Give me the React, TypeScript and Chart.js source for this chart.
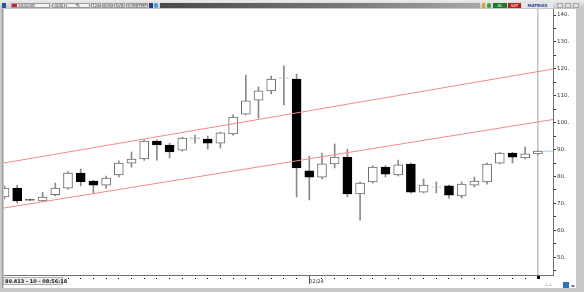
import React, { useEffect, useRef } from 'react';
import { Chart, registerables } from 'chart.js';

Chart.register(...registerables);

// ---- data ----
const OPEN = [72.4, 75.7, 71.4, 70.9, 73.3, 75.7, 81.3, 78.3, 76.8, 80.6, 85.0, 86.5, 93.2, 91.7, 89.8, 94.2, 93.9, 92.4, 95.8, 103.2, 108.4, 111.8, 116.5, 116.2, 82.1, 79.8, 84.7, 87.2, 73.5, 78.0, 83.5, 80.6, 84.6, 74.2, 76.0, 76.5, 72.8, 76.8, 78.0, 85.0, 88.7, 86.9, 88.4];
const HIGH = [76.5, 76.8, 71.6, 74.2, 77.6, 81.8, 82.8, 78.6, 80.2, 85.8, 89.1, 93.6, 93.6, 92.4, 94.6, 95.4, 95.0, 96.5, 102.9, 117.7, 113.3, 117.3, 121.1, 118.1, 87.6, 88.7, 92.1, 90.2, 78.0, 84.0, 84.0, 86.1, 85.0, 79.1, 78.0, 76.8, 78.0, 79.8, 85.0, 89.0, 89.0, 91.0, 89.6];
const LOW = [71.8, 70.2, 71.0, 70.7, 72.8, 75.3, 76.5, 73.9, 75.7, 79.8, 83.5, 86.0, 86.1, 86.9, 89.4, 92.4, 90.2, 90.6, 95.4, 102.9, 101.7, 110.7, 106.6, 72.4, 71.3, 79.1, 83.2, 72.4, 63.8, 77.6, 79.8, 80.2, 73.8, 73.9, 73.9, 72.0, 72.0, 76.1, 77.2, 84.7, 85.0, 86.5, 88.1];
const CLOSE = [75.7, 70.9, 71.2, 72.4, 75.7, 81.3, 78.0, 76.8, 79.4, 85.0, 86.5, 93.2, 91.7, 89.1, 94.3, 94.4, 92.4, 96.2, 102.1, 108.1, 111.8, 116.2, 116.7, 83.2, 79.8, 84.7, 87.2, 73.5, 77.6, 83.5, 80.9, 84.3, 74.2, 76.8, 76.2, 73.1, 77.2, 78.3, 84.6, 88.7, 87.2, 88.4, 89.413];

const Y_TICKS = [45, 50, 55, 60, 65, 70, 75, 80, 85, 90, 95, 100, 105, 110, 115, 120, 125, 130, 135, 140];
const Y_MIN = 43.42;
const Y_MAX = 142.23;
const X_MIN = -0.04;
const X_MAX = 43.19;
const MONTH_LABEL_INDEX = 24;
const MONTH_LABEL = '02/24';
const UPPER_CHANNEL = [85.03, 119.94];
const LOWER_CHANNEL = [68.31, 101.18];
const LAST_PRICE = 89.413;
const CURSOR_INDEX = 42;
const STATUS_TEXT = '89.413 - 10 - 08:56:18';
const TOOLBAR_BOXES = [
  { t: 'GUN', l: 52, w: 13 },
  { t: 'TL', l: 66, w: 24 },
  { t: '126', l: 91, w: 10 },
  { t: 'KHN', l: 102, w: 11 },
  { t: 'SVB', l: 114, w: 11 },
  { t: 'SYM', l: 126, w: 11 },
  { t: 'TMP', l: 137, w: 11 },
];

const FONT = '"DejaVu Sans", sans-serif';

export default function App() {
  const ref = useRef<HTMLCanvasElement | null>(null);

  useEffect(() => {
    const canvas = ref.current;
    if (!canvas) return;
    const up = OPEN.map((o, i) => CLOSE[i] >= o);
    const xTicks = OPEN.map((_, i) => i);

    const monthTick = {
      id: 'monthTick',
      afterDraw(c: any) {
        const xs = c.scales.x;
        const px = Math.round(xs.getPixelForValue(MONTH_LABEL_INDEX)) + 0.5;
        const ctx = c.ctx;
        ctx.save();
        ctx.strokeStyle = '#555';
        ctx.lineWidth = 1;
        ctx.beginPath();
        ctx.moveTo(px, xs.top + 1);
        ctx.lineTo(px, xs.top + 9);
        ctx.stroke();
        ctx.fillStyle = '#000';
        const cx = Math.round(xs.getPixelForValue(CURSOR_INDEX));
        ctx.fillRect(cx - 1, xs.top + 1, 3, 3);
        ctx.restore();
      },
    };

    const chart = new Chart(canvas, {
      type: 'bar',
      data: {
        datasets: [
          {
            type: 'line',
            data: [
              { x: X_MIN, y: UPPER_CHANNEL[0] },
              { x: X_MAX, y: UPPER_CHANNEL[1] },
            ],
            borderColor: '#f08a8a',
            borderWidth: 1,
            pointRadius: 0,
            order: 0,
          } as any,
          {
            type: 'line',
            data: [
              { x: X_MIN, y: LOWER_CHANNEL[0] },
              { x: X_MAX, y: LOWER_CHANNEL[1] },
            ],
            borderColor: '#f08a8a',
            borderWidth: 1,
            pointRadius: 0,
            order: 0,
          } as any,
          {
            type: 'line',
            data: [
              { x: CURSOR_INDEX + 0.36, y: LAST_PRICE },
              { x: X_MAX, y: LAST_PRICE },
            ],
            borderColor: '#86dcec',
            borderWidth: 1,
            pointRadius: 0,
            order: 0,
          } as any,
          {
            type: 'bar',
            data: OPEN.map((o, i) => ({ x: i, y: [o, CLOSE[i]] })),
            backgroundColor: up.map((u) => (u ? '#ffffff' : '#000000')),
            borderColor: up.map((u) => (u ? '#6a6a6a' : '#000000')),
            borderWidth: 1,
            borderSkipped: false,
            barThickness: 9,
            grouped: false,
            order: 1,
          } as any,
          {
            type: 'bar',
            data: LOW.map((l, i) => ({ x: i, y: [l, HIGH[i]] })),
            backgroundColor: '#8a8a8a',
            borderWidth: 0,
            barThickness: 1,
            grouped: false,
            order: 3,
          } as any,
          {
            type: 'line',
            data: [
              { x: CURSOR_INDEX, y: Y_MIN },
              { x: CURSOR_INDEX, y: Y_MAX },
            ],
            borderColor: '#a4a4a4',
            borderWidth: 1,
            pointRadius: 0,
            order: 5,
          } as any,
        ],
      },
      options: {
        animation: false,
        responsive: false,
        devicePixelRatio: 1,
        layout: { padding: 0 },
        plugins: { legend: { display: false }, tooltip: { enabled: false } },
        scales: {
          x: {
            type: 'linear',
            position: 'bottom',
            offset: false,
            min: X_MIN,
            max: X_MAX,
            grid: {
              offset: false,
              drawOnChartArea: false,
              tickLength: 4,
              tickColor: '#000',
              tickWidth: 1,
              tickBorderDash: [0, 2, 1.5, 10],
            },
            border: { color: '#707070' },
            ticks: {
              autoSkip: false,
              maxRotation: 0,
              align: 'start',
              padding: 0,
              color: '#333',
              font: { family: FONT, size: 5 },
              callback: (v: any) => (v === MONTH_LABEL_INDEX ? MONTH_LABEL : ''),
            },
            afterBuildTicks: (s: any) => {
              s.ticks = xTicks.map((v) => ({ value: v }));
            },
            afterFit: (s: any) => {
              s.height = 13;
              s.paddingLeft = 0;
              s.paddingRight = 0;
            },
          } as any,
          y: {
            type: 'linear',
            position: 'right',
            min: Y_MIN,
            max: Y_MAX,
            grid: { drawOnChartArea: false, tickLength: 3, tickColor: '#333' },
            border: { color: '#707070' },
            ticks: {
              padding: 1,
              color: '#333',
              font: { family: FONT, size: 5.5 },
              callback: (v: any) => (v % 10 === 0 ? `${v}.` : ''),
            },
            afterBuildTicks: (s: any) => {
              s.ticks = Y_TICKS.map((v) => ({ value: v }));
            },
            afterFit: (s: any) => {
              s.width = 23;
              s.paddingTop = 0;
              s.paddingBottom = 0;
            },
          } as any,
        },
      },
      plugins: [monthTick],
    });
    return () => chart.destroy();
  }, []);

  const abs = (o: React.CSSProperties): React.CSSProperties => ({ position: 'absolute', ...o });

  return (
    <div style={abs({ position: 'fixed', left: 0, top: 0, width: 584, height: 292, background: '#c9c9c9', overflow: 'hidden', fontFamily: FONT })}>
      {/* top toolbar */}
      <div style={abs({ left: 0, top: 0, width: 584, height: 9, background: 'linear-gradient(#ececec, #c4c4c4)' })} />
      <div style={abs({ left: 2, top: 3, width: 4, height: 5, background: '#2b4fa8' })} />
      <div style={abs({ left: 11, top: 3, width: 39, height: 5, background: '#f4f4f4', border: '1px solid #9a9a9a', boxSizing: 'border-box' })} />
      <div style={abs({ left: 12, top: 4, width: 5, height: 3, background: '#c0262c' })} />
      <div style={abs({ left: 18, top: 2, fontSize: 4, lineHeight: '7px', color: '#333' })}>XAGUSD</div>
      {TOOLBAR_BOXES.map((b) => (
        <div key={b.t} style={abs({ left: b.l, top: 3, width: b.w, height: 5, background: '#f2f2f2', border: '1px solid #9a9a9a', boxSizing: 'border-box', fontSize: 4, lineHeight: '4px', textAlign: 'center', color: '#333' })}>{b.t}</div>
      ))}
      <div style={abs({ left: 149, top: 3, width: 4, height: 5, background: '#2d3a88' })} />
      <div style={abs({ left: 154, top: 3, width: 4, height: 5, background: '#3aa0e0', borderRadius: 2 })} />
      <div style={abs({ left: 160, top: 3, width: 320, height: 5, background: 'linear-gradient(90deg, #4a4a4a, #7a7a7a 60%, #a8a8a8)' })} />
      <div style={abs({ left: 482, top: 3, width: 3, height: 5, background: '#e0a020' })} />
      <div style={abs({ left: 487, top: 3, width: 4, height: 5, background: '#3ca04a', borderRadius: 2 })} />
      <div style={abs({ left: 493, top: 3, width: 14, height: 5, background: '#1c7a2c', color: '#fff', fontSize: 4, lineHeight: '5px', textAlign: 'center' })}>AL</div>
      <div style={abs({ left: 508, top: 3, width: 13, height: 5, background: '#b3201e', color: '#fff', fontSize: 4, lineHeight: '5px', textAlign: 'center' })}>SAT</div>
      <div style={abs({ left: 522, top: 3, width: 31, height: 5, background: '#e6e6f0', color: '#2a3c8c', fontSize: 4, lineHeight: '5px', textAlign: 'center', fontWeight: 'bold' })}>MATRiKS</div>
      {[557, 565, 573].map((l) => (
        <div key={l} style={abs({ left: l, top: 3, width: 6, height: 5, background: '#dedede', border: '1px solid #a8a8a8', boxSizing: 'border-box' })} />
      ))}
      {/* white chart panel */}
      <div style={abs({ left: 4, top: 9, width: 572, height: 279, background: '#ffffff' })} />
      <div style={abs({ left: 2, top: 9, width: 1, height: 279, background: '#9a9a9a' })} />
      <canvas ref={ref} width={572} height={279} style={abs({ left: 4, top: 9, width: 572, height: 279 })} />
      {/* status box */}
      <div style={abs({ left: 3, top: 277, width: 60, height: 8, background: '#ececec', border: '1px solid #b0b0b0', boxSizing: 'border-box', fontSize: 5, lineHeight: '6px', color: '#222', paddingLeft: 1, whiteSpace: 'nowrap', fontWeight: 'bold' })}>{STATUS_TEXT}</div>
      {/* bottom right icons */}
      <div style={abs({ left: 545, top: 282, fontSize: 4, color: '#666' })}>⊥⊥</div>
      <div style={abs({ left: 563, top: 282, width: 6, height: 6, background: '#2f6fc4' })} />
      <div style={abs({ left: 571, top: 283, fontSize: 4, color: '#1a3a8a' })}>◂▸</div>
    </div>
  );
}
